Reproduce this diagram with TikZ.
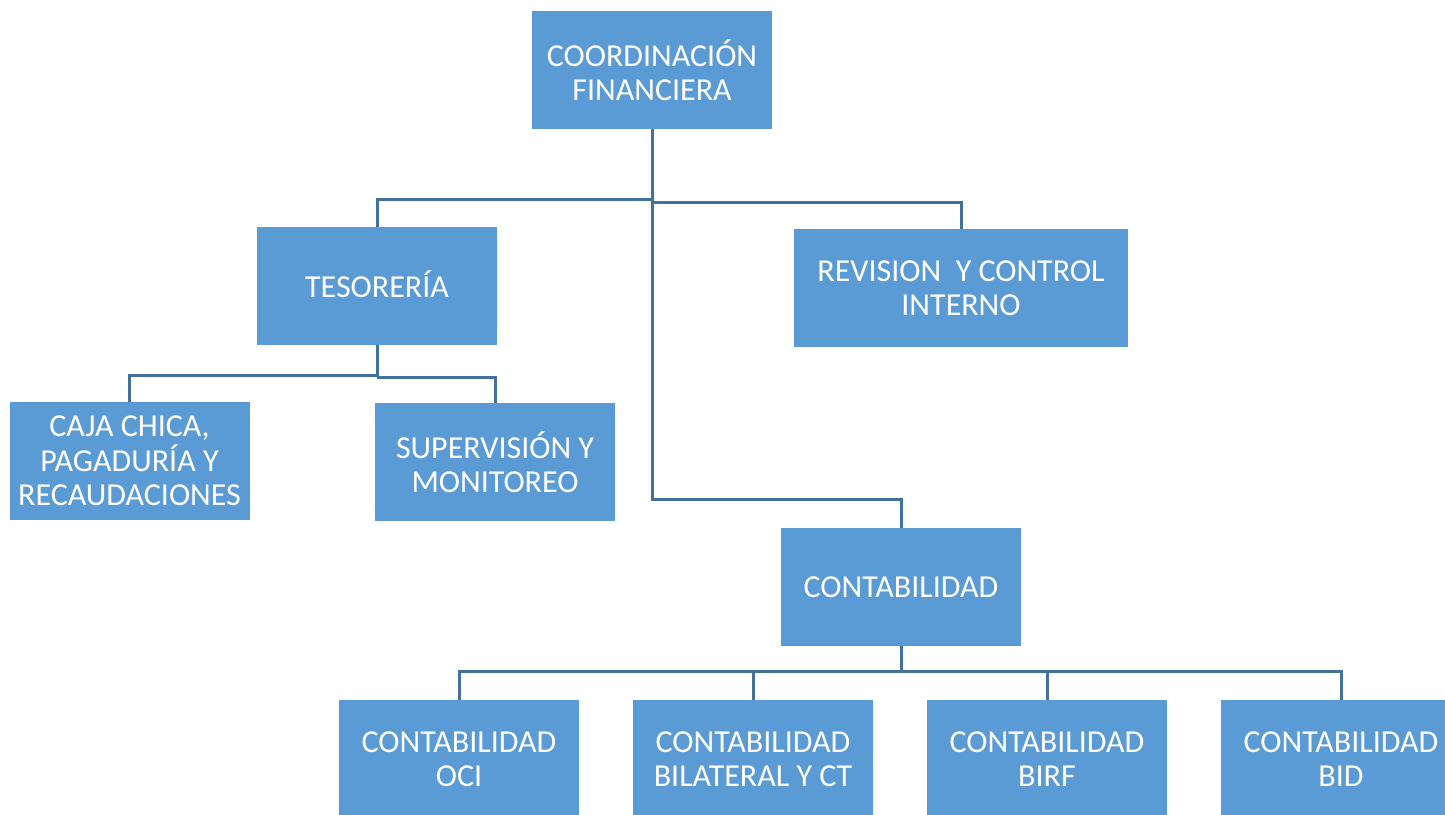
\documentclass[tikz,border=0pt]{standalone}
\usepackage{fontspec}
\setmainfont{Carlito}
\definecolor{boxblue}{HTML}{5B9BD5}
\definecolor{lineblue}{HTML}{41719C}
\begin{document}
\begin{tikzpicture}[x=0.5pt,y=-0.5pt,
  orgbox/.style={fill=boxblue,draw=none,text=white,align=center,
    minimum width=120pt,minimum height=59pt,inner sep=0pt,
    font=\fontsize{16}{17.2}\selectfont},
  conn/.style={draw=lineblue,line width=1.5pt}]
\useasboundingbox (0,0) rectangle (1445,814);
\begin{scope}
\clip (0,0) rectangle (1445,814);
\node[orgbox] (coord) at (652,70) {COORDINACIÓN\\FINANCIERA};
\node[orgbox] (tes) at (377,286) {\raisebox{2pt}{TESORERÍA}};
\node[orgbox,minimum width=167pt] (rev) at (961,288) {REVISION\ \ Y CONTROL\\INTERNO};
\node[orgbox] (caja) at (129.5,461) {CAJA CHICA,\\PAGADURÍA Y\\RECAUDACIONES};
\node[orgbox] (sup) at (495,462) {SUPERVISIÓN Y\\MONITOREO};
\node[orgbox] (cont) at (901,587) {CONTABILIDAD};
\node[orgbox] (oci) at (459,759) {CONTABILIDAD\\OCI};
\node[orgbox] (bil) at (753,759) {CONTABILIDAD\\BILATERAL Y CT};
\node[orgbox] (birf) at (1047,759) {CONTABILIDAD\\BIRF};
\node[orgbox] (bid) at (1341,759) {CONTABILIDAD\\BID};
\end{scope}
\draw[conn] (coord.south) -- (coord.south |- 0,199) -| (tes.north);
\draw[conn] (coord.south |- 0,202) -| (rev.north);
\draw[conn] (coord.south) -- (coord.south |- 0,499) -| (cont.north);
\draw[conn] (tes.south) -- (tes.south |- 0,375) -| (caja.north);
\draw[conn] (tes.south |- 0,377) -| (sup.north);
\draw[conn] (cont.south) -- (cont.south |- 0,671) -| (oci.north);
\draw[conn] (cont.south |- 0,671) -| (bil.north);
\draw[conn] (cont.south |- 0,671) -| (birf.north);
\draw[conn] (cont.south |- 0,671) -| (bid.north);
\end{tikzpicture}
\end{document}
